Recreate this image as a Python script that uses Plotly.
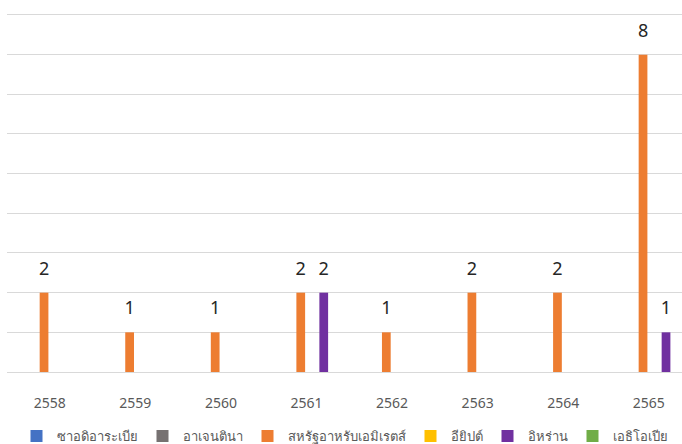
import plotly.graph_objects as go

years = ["2558", "2559", "2560", "2561", "2562", "2563", "2564", "2565"]
series_names = ["ซาอดิอาระเบีย", "อาเจนตินา", "สหรัฐอาหรับเอมิเรตส์", "อียิปต์", "อิหร่าน", "เอธิโอเปีย"]
saudi = [None, None, None, None, None, None, None, None]
argentina = [None, None, None, None, None, None, None, None]
uae = [2, 1, 1, 2, 1, 2, 2, 8]
egypt = [None, None, None, None, None, None, None, None]
iran = [None, None, None, 2, None, None, None, 1]
ethiopia = [None, None, None, None, None, None, None, None]
colors = ["#4472C4", "#767171", "#ED7D31", "#FFC000", "#7030A0", "#70AD47"]

all_values = [saudi, argentina, uae, egypt, iran, ethiopia]

FONT = "Noto Sans, Tahoma, sans-serif"
fig = go.Figure()
for i, (name, vals, col) in enumerate(zip(series_names, all_values, colors)):
    fig.add_trace(go.Bar(
        x=years, y=vals, name=name,
        marker=dict(color=col, line=dict(width=0)),
        offsetgroup=str(i), alignmentgroup="a",
    ))
for i, (name, vals, col) in enumerate(zip(series_names, all_values, colors)):
    fig.add_trace(go.Scatter(
        x=years, y=vals, mode="markers+text",
        text=[str(v) if v is not None else "" for v in vals],
        textposition="top center",
        textfont=dict(family=FONT, size=18, color="#262626"),
        marker=dict(size=20, color="rgba(0,0,0,0)"),
        offsetgroup=str(i), alignmentgroup="a",
        showlegend=False, hoverinfo="skip", cliponaxis=False,
    ))

cat_w = 85.57
plot_w = 682 - 7
fig.update_layout(
    width=682, height=444,
    margin=dict(l=7, r=0, t=13, b=71.5),
    barmode="group", bargap=0.194, bargroupgap=0.24,
    scattermode="group", scattergap=0.194,
    plot_bgcolor="white", paper_bgcolor="white",
    font=dict(family=FONT, color="#595959"),
    legend=dict(orientation="h", x=0.5, xanchor="center", y=0.018, yanchor="middle",
                yref="container", font=dict(size=13, color="#595959"),
                itemwidth=30, tracegroupgap=0),
    showlegend=True,
)
fig.update_xaxes(
    type="category", range=[-0.5, -0.5 + plot_w / cat_w],
    showline=False, showgrid=False, ticks="",
    tickfont=dict(size=14, color="#595959"), ticklabelstandoff=21,
)
fig.update_yaxes(
    range=[0, 9.05], dtick=1, showgrid=True, gridcolor="#d9d9d9", gridwidth=1,
    zeroline=True, zerolinecolor="#d9d9d9", zerolinewidth=1,
    showticklabels=False, ticks="",
)
fig.write_html("out.html", post_script="document.body.style.margin='0';",
               config={"displayModeBar": False})
